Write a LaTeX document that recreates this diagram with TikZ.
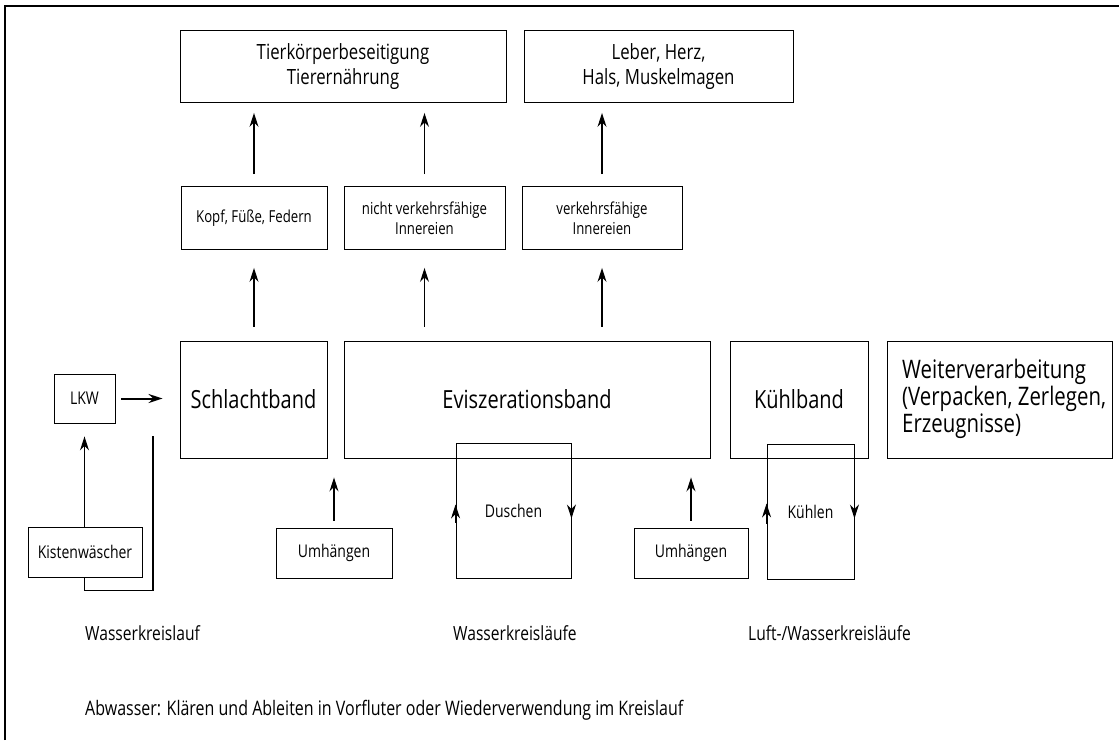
\documentclass[tikz,border=0pt]{standalone}
\usepackage{fontspec}
\setmainfont{Open Sans}[FakeStretch=0.8]
\usetikzlibrary{arrows.meta}
\begin{document}
\begin{tikzpicture}[x=1pt,y=-1pt,
  box/.style={draw, line width=0.9pt, inner sep=0pt, align=center},
  arr/.style={-{Stealth[length=14pt,width=9pt]}, line width=1.2pt},
  bigarr/.style={-{Stealth[length=14pt,width=9pt]}, line width=2pt},
  ftop/.style={font=\fontsize{21}{25}\selectfont},
  fmid/.style={font=\fontsize{16.5}{20}\selectfont},
  fbig/.style={font=\fontsize{25}{27}\selectfont},
  fsmall/.style={font=\fontsize{17.5}{18}\selectfont},
  flab/.style={font=\fontsize{19.5}{22}\selectfont, anchor=west, inner sep=0pt}]
\useasboundingbox (0,0) rectangle (1119,740);
\draw[line width=1.1pt] (5,740) -- (5,6) -- (1119,6);

% top row
\node[box, ftop, minimum width=326pt, minimum height=72pt] (tk) at (343,66.5) {Tierkörperbeseitigung\\Tierernährung};
\node[box, ftop, minimum width=269pt, minimum height=72pt] (lh) at (658.5,66.5) {Leber, Herz,\\Hals, Muskelmagen};

% middle row
\node[box, fmid, minimum width=146pt, minimum height=63pt] (kopf) at (254,218) {Kopf, Füße, Federn};
\node[box, fmid, minimum width=161pt, minimum height=63pt] (nvi) at (424.5,218) {nicht verkehrsfähige\\Innereien};
\node[box, fmid, minimum width=160pt, minimum height=63pt] (vi) at (602,218) {verkehrsfähige\\Innereien};

% big row
\node[box, fbig, minimum width=147pt, minimum height=117pt] (sb) at (253.5,399.5) {Schlachtband};
\node[box, fbig, minimum width=366pt, minimum height=117pt] (ev) at (527,399.5) {Eviszerationsband};
\node[box, fbig, minimum width=138pt, minimum height=117pt] (kb) at (799,399.5) {Kühlband};
\node[box, minimum width=225pt, minimum height=117pt] (wv) at (999.5,399.5) {};
\node[font=\fontsize{25.5}{27}\selectfont, align=left, anchor=west, inner sep=0pt] (wvt) at (902,399) {Weiterverarbeitung\\(Verpacken, Zerlegen,\\Erzeugnisse)};

% left side
\node[box, fsmall, minimum width=61pt, minimum height=49pt] (lkw) at (84.5,398.5) {LKW};
\node[box, fsmall, minimum width=114pt, minimum height=50pt] (kw) at (85,552) {Kistenwäscher};
\coordinate (ret) at (153,436);

% lower boxes
\node[box, fsmall, minimum width=116pt, minimum height=50pt] (u1) at (334,553) {Umhängen};
\node[box, fsmall, minimum width=114pt, minimum height=50pt] (u2) at (691,553) {Umhängen};
\node[box, fsmall, minimum width=115pt, minimum height=135pt] (du) at (513.5,510.5) {Duschen};
\node[box, fsmall, minimum width=87pt, minimum height=135pt] (kl) at (810.5,511.5) {Kühlen};

% labels
\node[flab] (l1) at (85,633) {Wasserkreislauf};
\node[flab] (l2) at (453,633) {Wasserkreisläufe};
\node[flab] (l3) at (748,633) {Luft-/Wasserkreisläufe};
\node[flab, font=\fontsize{20}{22}\selectfont] (l4) at (85,710) {Abwasser: Klären und Ableiten in Vorfluter oder Wiederverwendung im Kreislauf};

% arrows middle -> top
\draw[arr, shorten <=12pt, shorten >=10pt] (kopf.north) -- (kopf.north |- tk.south);
\draw[arr, shorten <=12pt, shorten >=10pt] (nvi.north) -- (nvi.north |- tk.south);
\draw[arr, shorten <=12pt, shorten >=10pt] (vi.north) -- (vi.north |- lh.south);

% arrows big -> middle
\draw[arr, shorten <=14pt, shorten >=18pt] (kopf.south |- sb.north) -- (kopf.south);
\draw[arr, shorten <=14pt, shorten >=18pt] (nvi.south |- ev.north) -- (nvi.south);
\draw[arr, shorten <=14pt, shorten >=18pt] (vi.south |- ev.north) -- (vi.south);

% LKW
\draw[bigarr, shorten <=6pt, shorten >=17pt] (lkw.east) -- (sb.west |- lkw.east);
\draw[arr, shorten >=13pt] (kw.north -| lkw.south) -- (lkw.south);
\draw[line width=1.2pt] (kw.south -| lkw.south) -- ++(0,13) -| (ret);

% Umhängen
\draw[arr, shorten <=7pt, shorten >=19pt] (u1.north) -- (u1.north |- ev.south);
\draw[arr, shorten <=7pt, shorten >=19pt] (u2.north) -- (u2.north |- ev.south);

% loop arrowheads
\draw[arr] (du.west) ++(0,12) -- ++(0,-18);
\draw[arr] (du.east) ++(0,-12) -- ++(0,20);
\draw[arr] (kl.west) ++(0,12) -- ++(0,-20);
\draw[arr] (kl.east) ++(0,-12) -- ++(0,19);
\end{tikzpicture}
\end{document}
